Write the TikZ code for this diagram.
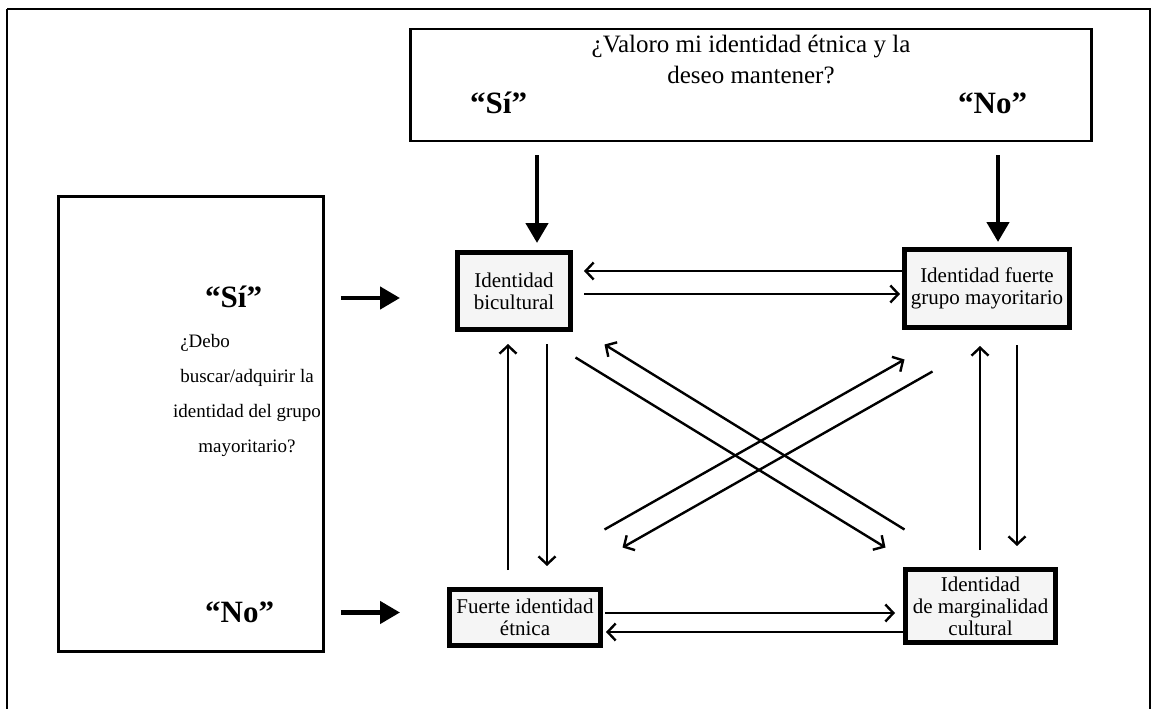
\documentclass[tikz,border=0pt]{standalone}
\usepackage{fontspec}
\setmainfont{Liberation Serif}
\usetikzlibrary{arrows.meta,calc}
\begin{document}
\begin{tikzpicture}[x=1pt,y=-1pt,
  frame/.style={draw,line width=2.6pt},
  idbox/.style={draw,line width=5pt,fill=black!4,inner sep=1pt,align=center,
    font=\fontsize{21}{22}\selectfont},
  thinarrow/.style={line width=2.4pt,-{Straight Barb[length=8pt,width=17pt,line width=2.4pt]}},
  bigarrow/.style={line width=4.5pt,-{Triangle[length=20pt,width=22pt]}},
  answer/.style={font=\fontsize{31}{33}\selectfont\bfseries,inner sep=0pt},
  question/.style={font=\fontsize{25}{28}\selectfont,inner sep=0pt},
  sidequestion/.style={font=\fontsize{19}{22}\selectfont,inner sep=0pt}]
\useasboundingbox (0,0) rectangle (1152,709);
\begin{scope}
\clip (0,0) rectangle (1152,709);
% outer frame, open below the page
\draw[frame] (7,9) -- (1150,9) -- (1150,760) (7,9) -- (7,760);
\end{scope}

% question boxes
\node[frame,minimum width=681pt,minimum height=112pt,inner sep=0pt] (T) at (751,85) {};
\node[frame,minimum width=265pt,minimum height=455pt,inner sep=0pt] (L) at (191,424) {};

\node[question] (q1) at (751,47) {¿Valoro mi identidad étnica y la};
\node[question] (q2) at (751,75) {deseo mantener?};
\node[answer,anchor=west] (ts) at (470,103) {“Sí”};
\node[answer,anchor=west] (tn) at (958,103) {“No”};

\node[sidequestion] (l2) at (247,378) {buscar/adquirir la};
\node[sidequestion,anchor=west] (l1) at (l2.west |- 0,343) {¿Debo};
\node[sidequestion] (l3) at (247,413) {identidad del grupo};
\node[sidequestion] (l4) at (247,448) {mayoritario?};
\node[answer,anchor=west] (ls) at (205,297) {“Sí”};
\node[answer,anchor=west] (ln) at (205,612) {“No”};

% identity boxes
\node[idbox,minimum width=113pt,minimum height=77pt] (B) at (514,291) {Identidad\\bicultural};
\node[idbox,minimum width=165pt,minimum height=78pt] (M) at (987,288.5) {Identidad fuerte\\grupo mayoritario};
\node[idbox,minimum width=151pt,minimum height=56pt] (E) at (525,617.5) {Fuerte identidad\\étnica};
\node[idbox,minimum width=150pt,minimum height=73pt] (G) at (980.5,606) {Identidad\\de marginalidad\\cultural};

% thick arrows from the questions
\coordinate (b1) at ($(B.north)+(23,0)$);
\coordinate (m1) at ($(M.north)+(11,0)$);
\draw[bigarrow,shorten <=13pt,shorten >=7pt] (b1 |- T.south) -- (b1);
\draw[bigarrow,shorten <=13pt,shorten >=5pt] (m1 |- T.south) -- (m1);
\coordinate (s1) at ($(B.west)+(-55,7)$);
\coordinate (n1) at ($(E.west)+(-47,-5)$);
\draw[bigarrow,shorten <=16pt] (s1 -| L.east) -- (s1);
\draw[bigarrow,shorten <=16pt] (n1 -| L.east) -- (n1);

% horizontal transitions
\coordinate (h1) at ($(B.east)+(0,-20)$);
\coordinate (h2) at ($(B.east)+(0,3)$);
\draw[thinarrow,shorten >=11pt] (h1 -| M.west) -- (h1);
\draw[thinarrow,shorten <=11pt,shorten >=2pt] (h2) -- (h2 -| M.west);
\coordinate (h3) at ($(E.east)+(0,-4.5)$);
\coordinate (h4) at ($(E.east)+(0,14.5)$);
\draw[thinarrow,shorten <=2pt,shorten >=8pt] (h3) -- (h3 -| G.west);
\draw[thinarrow,shorten >=3pt] (h4 -| G.west) -- (h4);

% vertical transitions
\coordinate (v1) at ($(B.south)+(-6,0)$);
\coordinate (v2) at ($(B.south)+(33,0)$);
\draw[thinarrow,shorten <=17pt,shorten >=12pt] (v1 |- E.north) -- (v1);
\draw[thinarrow,shorten <=12pt,shorten >=21pt] (v2) -- (v2 |- E.north);
\coordinate (v3) at ($(M.south)+(-7,0)$);
\coordinate (v4) at ($(M.south)+(30,0)$);
\draw[thinarrow,shorten <=17pt,shorten >=16pt] (v3 |- G.north) -- (v3);
\draw[thinarrow,shorten <=15pt,shorten >=21pt] (v4) -- (v4 |- G.north);

% diagonal transitions
\draw[thinarrow] ($(B.south east)+(2.5,25.5)$) -- ($(G.north west)+(-17.5,-19.5)$);
\draw[thinarrow] ($(G.north west)+(1.5,-37.5)$) -- ($(B.south east)+(31.5,12.5)$);
\draw[thinarrow] ($(E.north east)+(1.5,-57.5)$) -- ($(M.south west)+(2.5,29.5)$);
\draw[thinarrow] ($(M.south west)+(30.5,41.5)$) -- ($(E.north east)+(19.5,-39.5)$);
\end{tikzpicture}
\end{document}
